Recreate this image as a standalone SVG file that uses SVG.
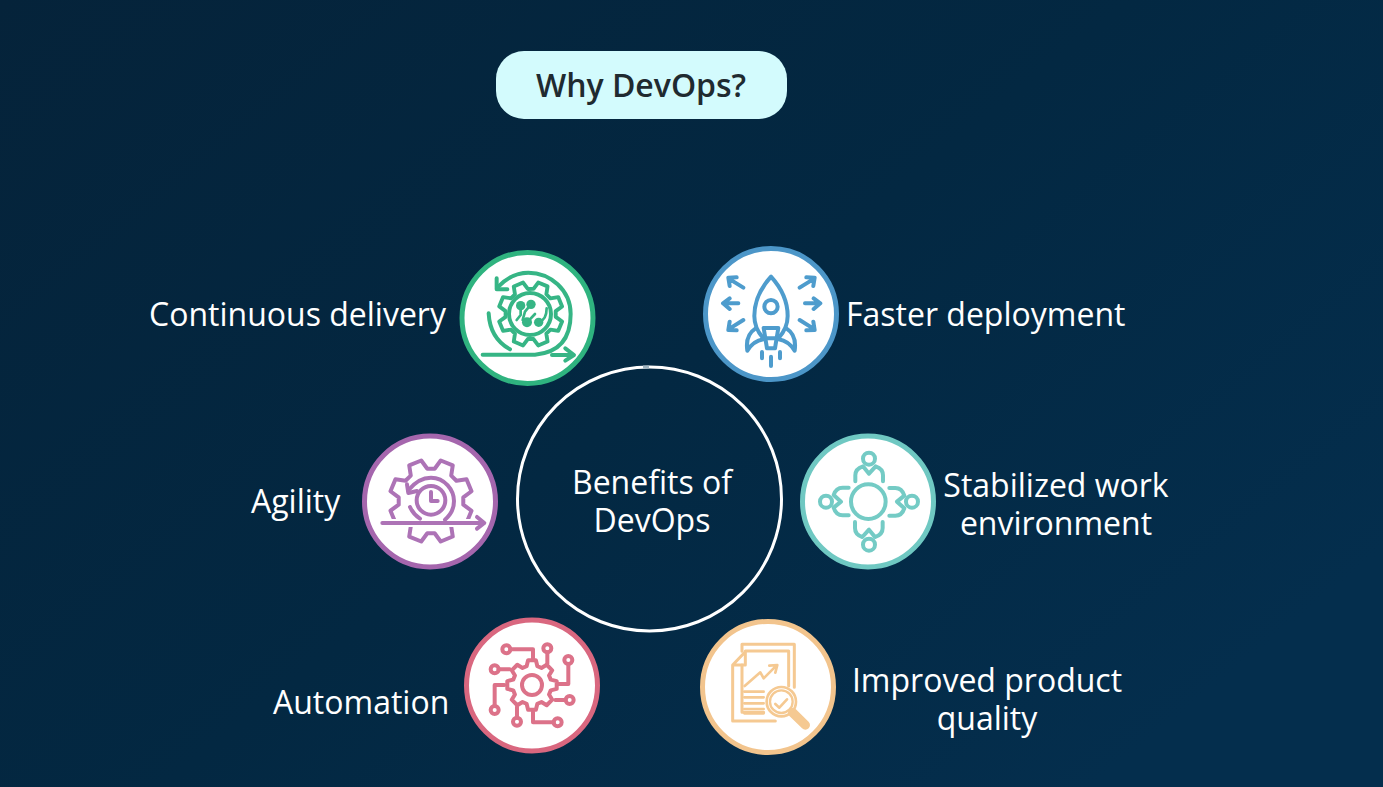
<svg xmlns="http://www.w3.org/2000/svg" width="1383" height="787" viewBox="0 0 1383 787">
<style>
text{font-family:"Open Sans","Noto Sans","Liberation Sans",sans-serif;font-size:32px;fill:#fff}
.m{text-anchor:middle}
.disc{fill:#fff;stroke-width:5}
.ic{fill:none;stroke-linecap:round;stroke-linejoin:round;stroke-width:12}
</style>
<defs>
<linearGradient id="bg" x1="0" y1="0" x2="1" y2="0.7">
<stop offset="0" stop-color="#05233a"/><stop offset="0.55" stop-color="#032842"/><stop offset="1" stop-color="#042e4d"/>
</linearGradient>
<path id="gear" d="M-21.5-75L-15.6-98.8 15.6-98.8 21.5-75 37.8-68.2 58.8-80.9 80.9-58.8 68.2-37.8 75-21.5 98.8-15.6 98.8 15.6 75 21.5 68.2 37.8 80.9 58.8 58.8 80.9 37.8 68.2 21.5 75 15.6 98.8-15.6 98.8-21.5 75-37.8 68.2-58.8 80.9-80.9 58.8-68.2 37.8-75 21.5-98.8 15.6-98.8-15.6-75-21.5-68.2-37.8-80.9-58.8-58.8-80.9-37.8-68.2Z"/>
<g id="person"><circle cx="228" cy="95" r="18"/><path d="M187 163V145Q187 125 210 118L228 140 248 118Q270 125 270 145V163"/></g>
</defs>
<rect width="1383" height="787" fill="url(#bg)"/>
<g id="title"><rect x="496" y="51" width="291" height="68" rx="28" fill="#d3fbfd"/><text x="641" y="97" class="m" style="font-weight:600;fill:#1f2a30">Why DevOps?</text></g>
<g id="connectors"></g>
<g id="center"><circle cx="649.5" cy="499" r="132" fill="none" stroke="#fff" stroke-width="3"/><path d="M643 367H649" stroke="#9fb3bf" stroke-width="3"/><text class="m" y="494"><tspan x="652">Benefits of</tspan><tspan x="652" dy="38">DevOps</tspan></text></g>
<g id="continuous-delivery"><circle cx="527.5" cy="318" r="65.5" class="disc" stroke="#2fb37f"/><text x="149" y="326">Continuous delivery</text>
<g transform="translate(450 240) scale(.3333)" class="ic" stroke="#36b585">
<use href="#gear" transform="translate(242 222) rotate(22.5) scale(.97)"/>
<circle cx="240" cy="222" r="63"/>
<path d="M98 344H255Q362 335 362 222C362 150 300 98 235 98Q185 98 145 140"/><path d="M140 115V148H172"/><path d="M116 220Q120 295 180 328"/><path d="M306 345H370M346 325L372 345 346 362"/>
<path d="M212 197V225L200 240M243 193L225 215 218 240M231 247L255 222M266 247Q290 240 290 205" stroke-width="8"/>
<g fill="#36b585" stroke="none"><circle cx="212" cy="197" r="14"/><circle cx="243" cy="193" r="14"/><circle cx="231" cy="247" r="15"/><circle cx="266" cy="247" r="14"/></g>
</g></g>
<g id="faster-deployment"><circle cx="771" cy="314" r="65.5" class="disc" stroke="#4c96c8"/><text x="846" y="326">Faster deployment</text>
<g transform="translate(695 240) scale(.3333)" class="ic" stroke="#4e9ccd">
<path d="M228 110Q178 165 178 228Q178 265 205 295H250Q278 265 278 228Q278 165 228 110Z"/><circle cx="228" cy="200" r="20"/><path d="M206 264H250L240 325H216Z"/>
<path d="M182 265Q150 285 157 332Q175 303 205 298M274 265Q306 285 299 332Q281 303 251 298"/>
<path d="M201 336V355M228 350V378M255 336V355"/>
<path d="M130 190H88M104 175L84 190 104 207M145 143L105 118M104 138L100 113 125 112M145 240L105 265M104 245L100 270 125 271M330 190H372M356 175L376 190 356 207M314 143L354 118M355 138L359 113 334 112M314 240L354 265M355 245L359 270 334 271"/>
</g></g>
<g id="agility"><circle cx="430" cy="501.5" r="65.5" class="disc" stroke="#a566ad"/><text x="251" y="513">Agility</text>
<g transform="translate(355 427) scale(.3333)" class="ic" stroke="#ad73b6">
<use href="#gear" transform="translate(228 222) rotate(22.5) scale(1.25)" stroke-width="9.6"/>
<path d="M85 288H385" stroke="#fff" stroke-width="24"/>
<path d="M82 288H385M366 270L388 288 366 305"/>
<circle cx="228" cy="220" r="43"/><path d="M228 195V222H248"/>
<path d="M160 190Q190 152 228 152C270 152 297 190 297 222Q297 255 270 278"/><path d="M156 172L160 198 186 192"/><path d="M165 240Q175 262 195 275"/>
</g></g>
<g id="stabilized"><circle cx="868" cy="501.5" r="65.5" class="disc" stroke="#6fc8c2"/><text class="m" y="497"><tspan x="1056">Stabilized work</tspan><tspan x="1056" dy="38">environment</tspan></text>
<g transform="translate(793 427) scale(.3333)" class="ic" stroke="#74cbc5">
<circle cx="226" cy="224" r="52"/>
<use href="#person"/><use href="#person" transform="rotate(90 228 224)"/><use href="#person" transform="rotate(180 228 224)"/><use href="#person" transform="rotate(270 228 224)"/>
</g></g>
<g id="automation"><circle cx="532" cy="685.5" r="65.5" class="disc" stroke="#d9677f"/><text x="273" y="714">Automation</text>
<g transform="translate(457 610) scale(.3333)" class="ic" stroke="#dc7289">
<use href="#gear" transform="translate(225 225) scale(.75)" stroke-width="16"/>
<circle cx="225" cy="225" r="30"/>
<circle cx="148" cy="118" r="12"/><path d="M160 118H228V150"/><circle cx="271" cy="115" r="12"/><path d="M271 127V160"/><circle cx="334" cy="150" r="12"/><path d="M334 162V222H300"/><circle cx="113" cy="178" r="12"/><path d="M125 178H158"/><circle cx="338" cy="270" r="12"/><path d="M326 270H295"/><circle cx="113" cy="300" r="12"/><path d="M113 288V225H142"/><circle cx="180" cy="335" r="12"/><path d="M180 323V290"/><circle cx="302" cy="337" r="12"/><path d="M290 337H228V305"/>
</g></g>
<g id="quality"><circle cx="768" cy="687" r="65.5" class="disc" stroke="#f2c48d"/><text class="m" y="692"><tspan x="987">Improved product</tspan><tspan x="987" dy="38">quality</tspan></text>
<g transform="translate(692 610) scale(.3333)" class="ic" stroke="#f5c992">
<path d="M150 124V103H307V232M150 165V307H215" stroke-width="9"/>
<path d="M160 123H290V228M122 165L160 125V165ZM122 165V333H250" stroke-width="9"/>
<path d="M158 228L205 187 215 205 250 170M232 167L256 165 250 188M157 245H215M157 262H215M157 280H215M157 297H215M157 310H215" stroke-width="8"/>
<circle cx="268" cy="275" r="44" fill="#fff" stroke-width="8"/><circle cx="268" cy="275" r="34" stroke-width="7"/><path d="M250 282L262 293 285 268" stroke-width="8"/>
<path d="M302 308L340 345" stroke-width="28"/>
</g></g>
</svg>
